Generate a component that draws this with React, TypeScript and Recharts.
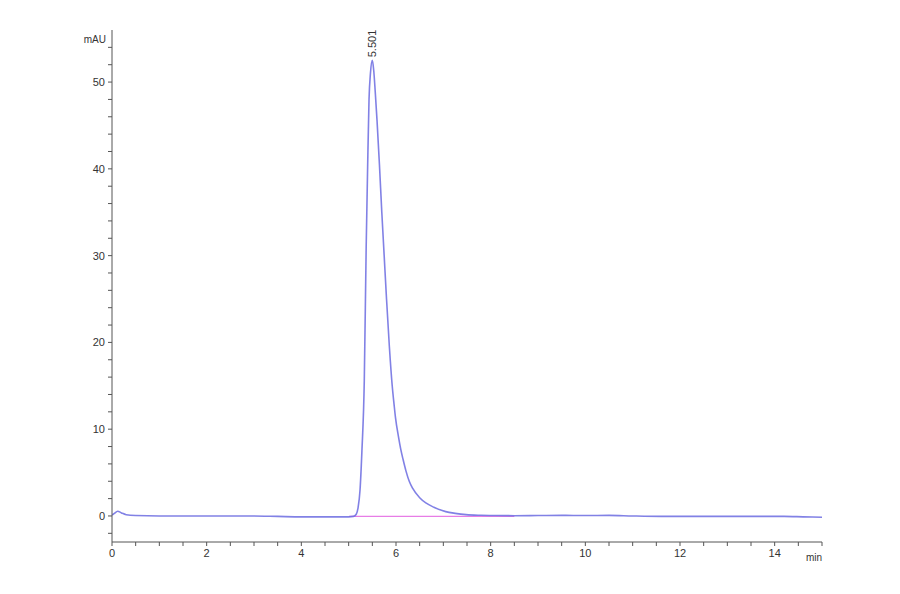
import React from "react";
import { LineChart, Line, XAxis, YAxis, ReferenceDot } from "recharts";

const timeMin = [0, 0.05, 0.12, 0.2, 0.3, 0.5, 1.0, 2.0, 3.0, 3.5, 4.0, 4.5, 5.0, 5.1, 5.16, 5.2, 5.24, 5.28, 5.33, 5.37, 5.4, 5.43, 5.46, 5.5, 5.53, 5.56, 5.6, 5.65, 5.7, 5.75, 5.8, 5.86, 5.92, 5.96, 5.99, 6.05, 6.1, 6.15, 6.21, 6.28, 6.35, 6.5, 6.63, 6.8, 7.05, 7.25, 7.48, 7.8, 8.1, 8.5, 9.0, 9.5, 10.0, 10.5, 11.0, 11.6, 12.5, 13.5, 14.2, 14.6, 15.0];
const signalMAU = [0.1, 0.3, 0.55, 0.35, 0.15, 0.05, 0.0, 0.0, 0.0, -0.05, -0.1, -0.1, -0.1, -0.05, 0.2, 1.0, 3.0, 7.5, 15.6, 31, 40, 48, 51, 52.5, 51.3, 49, 45.5, 40.5, 35, 30, 25, 19.5, 15, 12.8, 11.3, 9.2, 7.7, 6.5, 5.2, 4.0, 3.2, 2.1, 1.5, 1.0, 0.5, 0.3, 0.15, 0.08, 0.05, 0.03, 0.05, 0.07, 0.05, 0.07, 0.0, -0.05, -0.05, -0.05, -0.05, -0.1, -0.15];

const baselineTime = [5.01, 8.5];
const baselineMAU = [-0.05, -0.05];

const peakTime = 5.501;
const peakHeight = 52.4;
const peakLabel = "5.501";

const xTicks = Array.from({ length: 31 }, (_, i) => i * 0.5);
const xLabelled = [0, 2, 4, 6, 8, 10, 12, 14];
const yTicks = Array.from({ length: 29 }, (_, i) => -2 + i * 2);
const yLabelled = [0, 10, 20, 30, 40, 50];

const traceData = timeMin.map((t, i) => ({ t, v: signalMAU[i] }));
const baselineData = baselineTime.map((t, i) => ({ t, v: baselineMAU[i] }));

const FONT = "'Liberation Sans', Arial, sans-serif";
const AXIS = "#555";
const TEXT = "#333";

const PeakLabel = (props: any) => {
  const { viewBox } = props;
  const x = viewBox.x;
  const y = viewBox.y - 4;
  return (
    <text
      x={x}
      y={y}
      transform={`rotate(-90 ${x} ${y})`}
      fontSize={11}
      fontFamily={FONT}
      fill={TEXT}
      textAnchor="start"
      dominantBaseline="central"
    >
      {peakLabel}
    </text>
  );
};

export default function App() {
  return (
    <div style={{ position: "absolute", left: 0, top: 0, width: 900, height: 594, background: "#fff" }}>
      <LineChart width={900} height={594} margin={{ top: 30, right: 78, left: 52, bottom: 22 }}>
        <XAxis
          type="number"
          dataKey="t"
          domain={[0, 15]}
          ticks={xTicks}
          interval={0}
          allowDataOverflow
          tickFormatter={(v: number) => (xLabelled.includes(v) ? String(v) : "")}
          stroke={AXIS}
          tickSize={4}
          tickMargin={3}
          height={30}
          tick={{ fontSize: 11, fontFamily: FONT, fill: TEXT }}
          label={{ value: "min", position: "insideBottomRight", offset: 0, dy: -11, dx: 0, fontSize: 10, fontFamily: FONT, fill: TEXT }}
        />
        <YAxis
          type="number"
          dataKey="v"
          domain={[-3, 56]}
          ticks={yTicks}
          interval={0}
          allowDataOverflow
          tickFormatter={(v: number) => (yLabelled.includes(v) ? String(v) : "")}
          stroke={AXIS}
          tickSize={4}
          tickMargin={3}
          width={60}
          tick={{ fontSize: 11, fontFamily: FONT, fill: TEXT }}
          label={{ value: "mAU", position: "insideTopRight", offset: 0, dx: -6, dy: 6, fontSize: 10, fontFamily: FONT, fill: TEXT }}
        />
        <Line
          data={baselineData}
          dataKey="v"
          type="linear"
          stroke="#e77de6"
          strokeWidth={1.3}
          dot={false}
          isAnimationActive={false}
        />
        <Line
          data={traceData}
          dataKey="v"
          type="monotone"
          stroke="#6b6be0"
          strokeOpacity={0.85}
          strokeWidth={1.6}
          dot={false}
          isAnimationActive={false}
        />
        <ReferenceDot x={peakTime} y={peakHeight} r={0} fill="none" stroke="none" label={<PeakLabel />} />
      </LineChart>
    </div>
  );
}
